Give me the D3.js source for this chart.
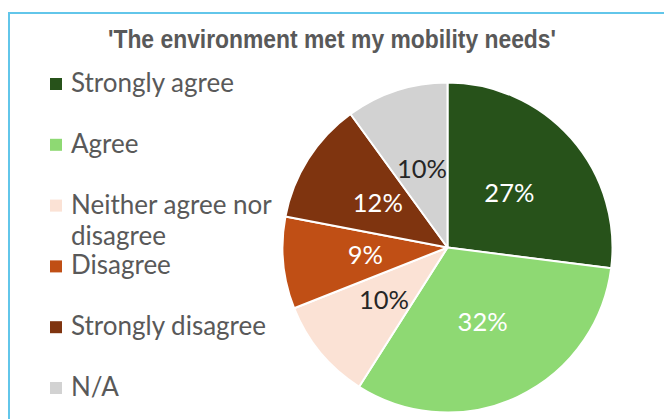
<!DOCTYPE html>
<html>
<head>
<meta charset="utf-8">
<script src="https://cdn.jsdelivr.net/npm/d3@7"></script>
<style>
  html, body { margin: 0; padding: 0; background: #ffffff; }
  svg { display: block; }
</style>
</head>
<body>
<svg id="chart" width="664" height="419"></svg>
<script>
// Survey responses: 'The environment met my mobility needs'
const categories = ["Strongly agree", "Agree", "Neither agree nor disagree", "Disagree", "Strongly disagree", "N/A"];
const shares = [27, 32, 10, 9, 12, 10];           // percent of respondents
const percentLabels = ["27%", "32%", "10%", "9%", "12%", "10%"];
const legendLines = [["Strongly agree"], ["Agree"], ["Neither agree nor", "disagree"], ["Disagree"], ["Strongly disagree"], ["N/A"]];
const sliceColors = ["#27521a", "#8ed973", "#fbe2d5", "#c04f15", "#7f340f", "#d2d2d2"];
const titleText = "'The environment met my mobility needs'";

const W = 664, H = 419;
const svg = d3.select("#chart");

// Frame of the chart area (extends past the right and bottom edges)
svg.append("rect")
  .attr("x", 9).attr("y", 13)
  .attr("width", W + 20).attr("height", H + 20)
  .attr("fill", "#ffffff")
  .attr("stroke", "#62c6ea")
  .attr("stroke-width", 2);

// Title
svg.append("text")
  .attr("x", 332).attr("y", 48)
  .attr("text-anchor", "middle")
  .attr("font-family", "'Liberation Sans', Arial, sans-serif")
  .attr("font-weight", "bold")
  .attr("font-size", 25)
  .attr("fill", "#595959")
  .attr("textLength", 448)
  .attr("lengthAdjust", "spacingAndGlyphs")
  .text(titleText);

// Pie
const cx = 447.5, cy = 247.5, radius = 165;
const color = d3.scaleOrdinal().domain(categories).range(sliceColors);
const pie = d3.pie().sort(null).value(d => d.value);
const arc = d3.arc().innerRadius(0).outerRadius(radius);

const data = categories.map((c, i) => ({ name: c, value: shares[i], label: percentLabels[i] }));
const arcs = pie(data);

const g = svg.append("g").attr("transform", `translate(${cx},${cy})`);
g.selectAll("path.slice")
  .data(arcs)
  .join("path")
  .attr("class", "slice")
  .attr("d", arc)
  .attr("fill", d => color(d.data.name))
  .attr("stroke", "#ffffff")
  .attr("stroke-width", 2)
  .attr("stroke-linejoin", "round");

// Percentage labels at the middle of each slice; light text on darker fills
g.selectAll("text.pct")
  .data(arcs)
  .join("text")
  .attr("class", "pct")
  .attr("transform", d => `translate(${arc.centroid(d)})`)
  .attr("text-anchor", "middle")
  .attr("dy", "0.36em")
  .attr("font-family", "Lato, 'Open Sans', sans-serif")
  .attr("font-size", 25.5)
  .attr("fill", d => d3.hsl(color(d.data.name)).l < 0.72 ? "#ffffff" : "#262626")
  .text(d => d.data.label);

// Legend
const legendX = 50, legendTop = 92, legendStep = 60.8, swatch = 12, lineGap = 31;
const legend = svg.append("g");
const items = legend.selectAll("g.item")
  .data(categories)
  .join("g")
  .attr("class", "item")
  .attr("transform", (d, i) => `translate(${legendX},${legendTop + i * legendStep})`);

items.append("rect")
  .attr("x", 0).attr("y", -14)
  .attr("width", swatch).attr("height", swatch)
  .attr("fill", d => color(d));

items.append("text")
  .attr("x", 21).attr("y", 0)
  .attr("font-family", "Lato, 'Open Sans', sans-serif")
  .attr("font-size", 26)
  .attr("fill", "#595959")
  .each(function(d, i) {
    const t = d3.select(this);
    legendLines[i].forEach((line, k) => {
      t.append("tspan").attr("x", 21).attr("y", k * lineGap).text(line);
    });
  });
</script>
</body>
</html>
